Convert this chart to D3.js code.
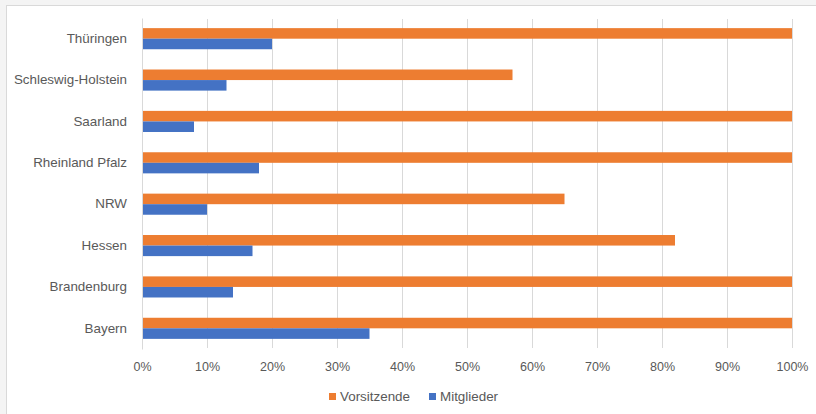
<!DOCTYPE html>
<html><head><meta charset="utf-8">
<script src="https://cdn.jsdelivr.net/npm/d3@7"></script>
<style>body{margin:0;background:#f4f4f4;}svg{display:block;}</style>
</head><body>
<svg id="c" width="816" height="414"></svg>
<script>
const categories = ["Thüringen","Schleswig-Holstein","Saarland","Rheinland Pfalz","NRW","Hessen","Brandenburg","Bayern"];
const vorsitzende = [100,57,100,100,65,82,100,100];
const mitglieder = [20,13,8,18,10,17,14,35];
const seriesNames = ["Vorsitzende","Mitglieder"];
const seriesColors = ["#ED7D31","#4472C4"];
const tickValues = [0,10,20,30,40,50,60,70,80,90,100];

const svg = d3.select("#c");
const font = "'Liberation Sans', Arial, sans-serif";
svg.append("rect").attr("x",6.5).attr("y",5.5).attr("width",820).attr("height",420)
  .attr("fill","#fff").attr("stroke","#d9d9d9");

const x = d3.scaleLinear().domain([0,100]).range([142,792]);
const y = d3.scaleBand().domain(categories).range([18,349]).paddingInner(0.49).paddingOuter(0.245);
const ys = d3.scaleBand().domain(seriesNames).range([0,y.bandwidth()]);

// gridlines
svg.append("g").selectAll("line").data(tickValues).join("line")
  .attr("x1",d=>x(d)+0.5).attr("x2",d=>x(d)+0.5).attr("y1",19).attr("y2",348)
  .attr("stroke","#d9d9d9").attr("stroke-width",1);

const data = categories.map((c,i)=>({c, vals:[vorsitzende[i],mitglieder[i]]}));
const g = svg.append("g");
data.forEach(d=>{
  d.vals.forEach((v,j)=>{
    g.append("rect").attr("x",x(0)).attr("y",y(d.c)+ys(seriesNames[j]))
      .attr("width",x(v)-x(0)).attr("height",ys.bandwidth()).attr("fill",seriesColors[j]);
  });
});

// x axis labels
const xa = svg.append("g").attr("transform","translate(0,349)")
  .call(d3.axisBottom(x).tickValues(tickValues).tickSize(0).tickPadding(13).tickFormat(d=>d+"%"));
xa.select(".domain").remove();
xa.selectAll("text").attr("fill","#595959").style("font-family",font).style("font-size","12.5px");

// y axis labels
const ya = svg.append("g").attr("transform","translate(142,0)")
  .call(d3.axisLeft(y).tickSize(0).tickPadding(15));
ya.select(".domain").attr("stroke","#d9d9d9");
ya.selectAll("text").attr("fill","#595959").style("font-family",font).style("font-size","13.4px");

// legend
const leg = svg.append("g");
const lx = [329,429];
seriesNames.forEach((s,i)=>{
  leg.append("rect").attr("x",lx[i]).attr("y",393).attr("width",7).attr("height",7).attr("fill",seriesColors[i]);
  leg.append("text").attr("x",lx[i]+11).attr("y",396).attr("dy","0.35em")
    .attr("fill","#595959").style("font-family",font).style("font-size","13.4px").text(s);
});
</script>
</body></html>
